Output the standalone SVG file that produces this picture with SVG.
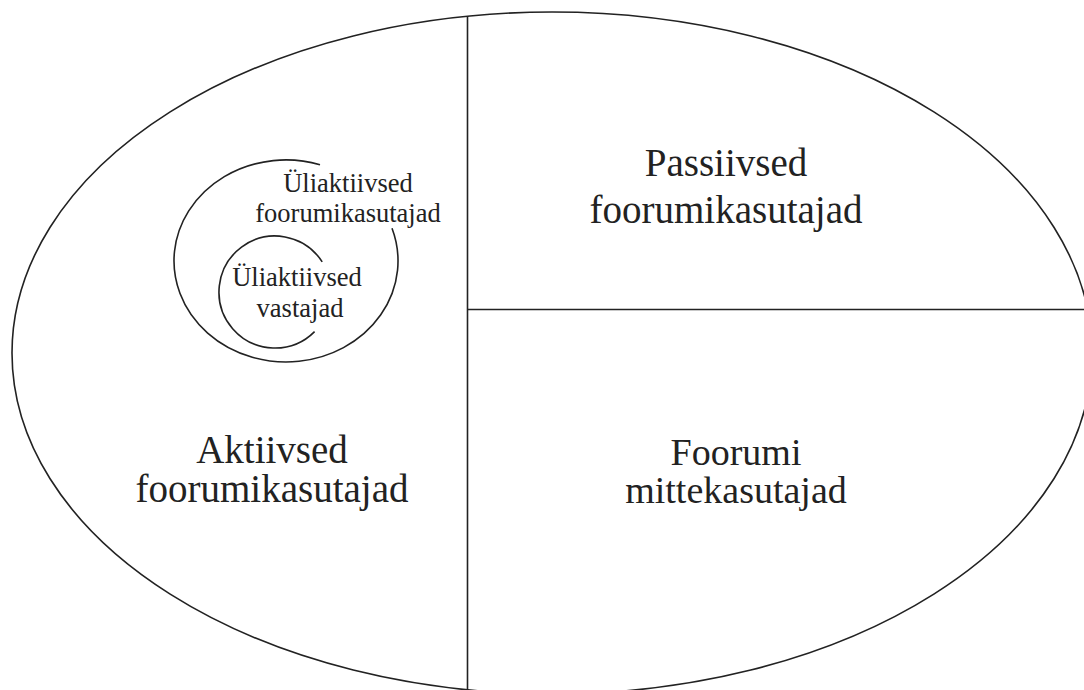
<svg xmlns="http://www.w3.org/2000/svg" width="1084" height="690" viewBox="0 0 1084 690">
<style>
.ln{fill:none;stroke:#222;stroke-width:1.6}
.big{font-family:"Liberation Serif","Times New Roman",serif;font-size:39px;fill:#222;text-anchor:middle}
.sm{font-family:"Liberation Serif","Times New Roman",serif;font-size:26.5px;fill:#222;text-anchor:middle}
</style>
<rect width="1084" height="690" fill="#fff"/>
<g id="ellipse"><ellipse class="ln" cx="552" cy="353" rx="540" ry="341"/></g>
<g id="connectors">
<line class="ln" x1="467.5" y1="16" x2="467.5" y2="690"/>
<line class="ln" x1="467.5" y1="309.5" x2="1084" y2="309.5"/>
</g>
<g id="passiivsed"><text class="big" x="726" y="176">Passiivsed<tspan x="726" dy="47">foorumikasutajad</tspan></text></g>
<g id="aktiivsed"><text class="big" x="272" y="463">Aktiivsed<tspan x="272" dy="39">foorumikasutajad</tspan></text></g>
<g id="mittekasutajad"><text class="big" x="736" y="465" style="font-size:38px">Foorumi<tspan x="736" dy="38">mittekasutajad</tspan></text></g>
<g id="uliaktiivsed-kasutajad">
<path class="ln" d="M 320 164.7 A 112 101 0 1 0 392 228.3"/>
<text class="sm" x="348" y="192">Üliaktiivsed<tspan x="348" dy="30">foorumikasutajad</tspan></text>
</g>
<g id="uliaktiivsed-vastajad">
<path class="ln" d="M 322.2 261.9 A 56 56 0 1 0 314.6 331.6"/>
<text class="sm" x="297" y="286">Üliaktiivsed<tspan x="300" dy="31">vastajad</tspan></text>
</g>
</svg>
